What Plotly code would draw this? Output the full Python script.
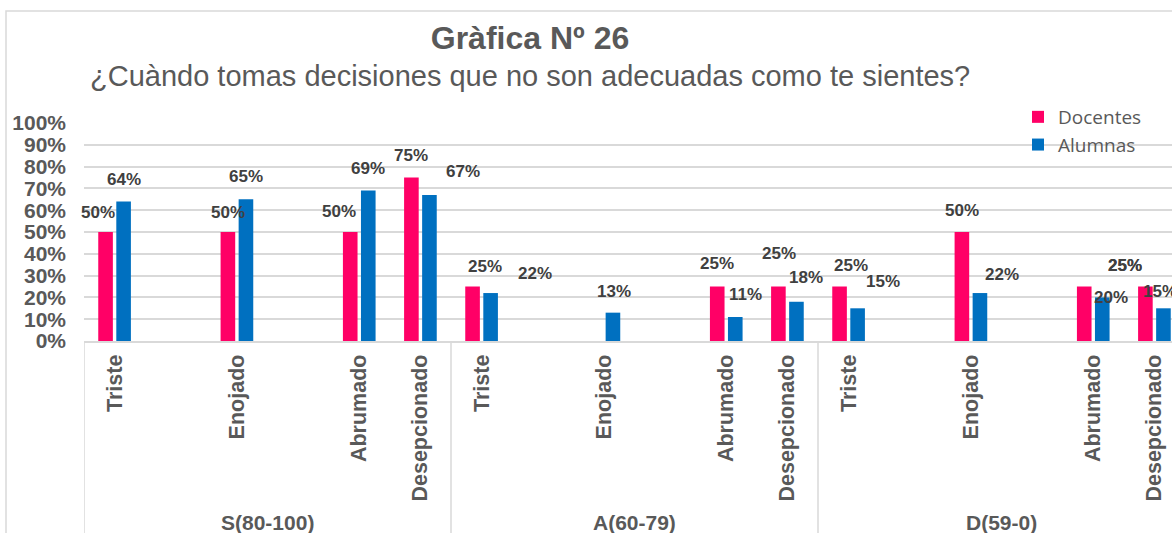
import plotly.graph_objects as go

# Data (blank slots are the empty categories of the original sheet)
groups = ["S(80-100)", "A(60-79)", "D(59-0)"]
categories = ["Triste", "", "Enojado", "", "Abrumado", "Desepcionado"]
docentes = [0.50, None, 0.50, None, 0.50, 0.75,
            0.25, None, 0.00, None, 0.25, 0.25,
            0.25, None, 0.50, None, 0.25, 0.25]
alumnas = [0.64, None, 0.65, None, 0.69, 0.67,
           0.22, None, 0.13, None, 0.11, 0.18,
           0.15, None, 0.22, None, 0.20, 0.15]

# Label offsets (px) relative to slot centre / bar top, to mimic the hand-placed labels
doc_dx = [-17, 0, -9, 0, -20, -9, 3.5, 0, 0, 0, -9, -8.5, 2, 0, -9, 0, 32, -29.5]
doc_dy = [20, 0, 20, 0, 21, 22, 20.5, 0, 0, 0, 23.5, 33.5, 21, 0, 22, 0, 21, 21]
alu_dx = [9.5, 0, 9, 0, 9, 43, 53, 0, 10, 0, 19, 18.5, 34, 0, 31.5, 0, 18, 5.5]
alu_dy = [21.5, 0, 22.5, 0, 22, 23, 20, 0, 21.5, 0, 23, 24, 26.5, 0, 19, 0, -0.5, 16.5]

PINK = "#FF0066"
BLUE = "#0070C0"
GREY = "#595959"
LINE = "#D9D9D9"

slot_labels = categories * len(groups)
xs = list(range(len(slot_labels)))
n_per_group = len(categories)

fig = go.Figure()
fig.add_trace(go.Bar(x=xs, y=docentes, name="Docentes", marker_color=PINK, marker_line_width=0))
fig.add_trace(go.Bar(x=xs, y=alumnas, name="Alumnas", marker_color=BLUE, marker_line_width=0))

annotations = []
label_font = dict(family="Liberation Sans, Arial", size=17, color="#404040", weight="bold")
for vals, dxs, dys in [(docentes, doc_dx, doc_dy), (alumnas, alu_dx, alu_dy)]:
    for i, v in enumerate(vals):
        if v is None or v == 0:
            continue
        annotations.append(dict(
            x=i, y=v, xref="x", yref="y", text=f"{v:.0%}", showarrow=False,
            xshift=dxs[i], yshift=dys[i], yanchor="middle", font=label_font))

# group labels
for g, name in enumerate(groups):
    annotations.append(dict(
        x=g * n_per_group + (n_per_group - 1) / 2, y=-(522 - 341) / 218, xref="x", yref="paper",
        text=name, showarrow=False, yanchor="middle",
        font=dict(family="Liberation Sans, Arial", size=21, color=GREY, weight="bold")))

# subtitle
annotations.append(dict(
    x=(530 - 84) / 1088, y=(341 - 76) / 218, xref="paper", yref="paper",
    text="¿Cuàndo tomas decisiones que no son adecuadas como te sientes?",
    showarrow=False, yanchor="middle",
    font=dict(family="Liberation Sans, Arial", size=29, color=GREY)))

shapes = []
# group dividers below the axis
for g in range(len(groups) + 1):
    shapes.append(dict(type="line", xref="x", yref="paper",
                       x0=g * n_per_group - 0.5, x1=g * n_per_group - 0.5, y0=0, y1=-1,
                       line=dict(color=LINE, width=1.5)))
# chart frame
shapes.append(dict(type="rect", xref="paper", yref="paper",
                   x0=(6 - 84) / 1088, x1=1.2, y0=-1.2, y1=(341 - 11) / 218,
                   line=dict(color=LINE, width=1.5)))

fig.update_layout(
    width=1172, height=533,
    margin=dict(l=84, r=0, t=123, b=192),
    paper_bgcolor="white", plot_bgcolor="white",
    barmode="group", bargap=0.41, bargroupgap=0.19,
    title=dict(text="<b>Gràfica Nº 26</b>", x=530 / 1172, xanchor="center",
               y=1 - 38 / 533, yanchor="middle",
               font=dict(family="Liberation Sans, Arial", size=32, color=GREY)),
    legend=dict(x=(1018 - 84) / 1088, y=(341 - 98) / 218, xanchor="left", yanchor="top",
                font=dict(family="Open Sans", size=19, color=GREY),
                bgcolor="rgba(0,0,0,0)", tracegroupgap=0),
    annotations=annotations,
    shapes=shapes,
    showlegend=True,
)
fig.update_xaxes(
    automargin=False,
    range=[-0.5, -0.5 + 1088 / (367 / 6)],
    tickvals=[i for i, s in enumerate(slot_labels) if s],
    ticktext=[s for s in slot_labels if s],
    tickangle=-90,
    tickfont=dict(family="Liberation Sans, Arial", size=21.5, color=GREY, weight="bold"),
    showline=True, linecolor=LINE, linewidth=2,
    showgrid=False, ticks="", zeroline=False,
    ticklabelstandoff=3,
)
fig.update_yaxes(
    automargin=False,
    range=[0, 1], dtick=0.1, tickformat=".0%",
    tickfont=dict(family="Liberation Sans, Arial", size=21, color=GREY, weight="bold"),
    gridcolor=LINE, gridwidth=2, zeroline=False, showline=False,
    ticklabelstandoff=17,
)

# drop the page's default body margin so the figure fills the window exactly
fig.write_html("out.html", config={"displayModeBar": False},
               post_script="document.body.style.margin='0';")
